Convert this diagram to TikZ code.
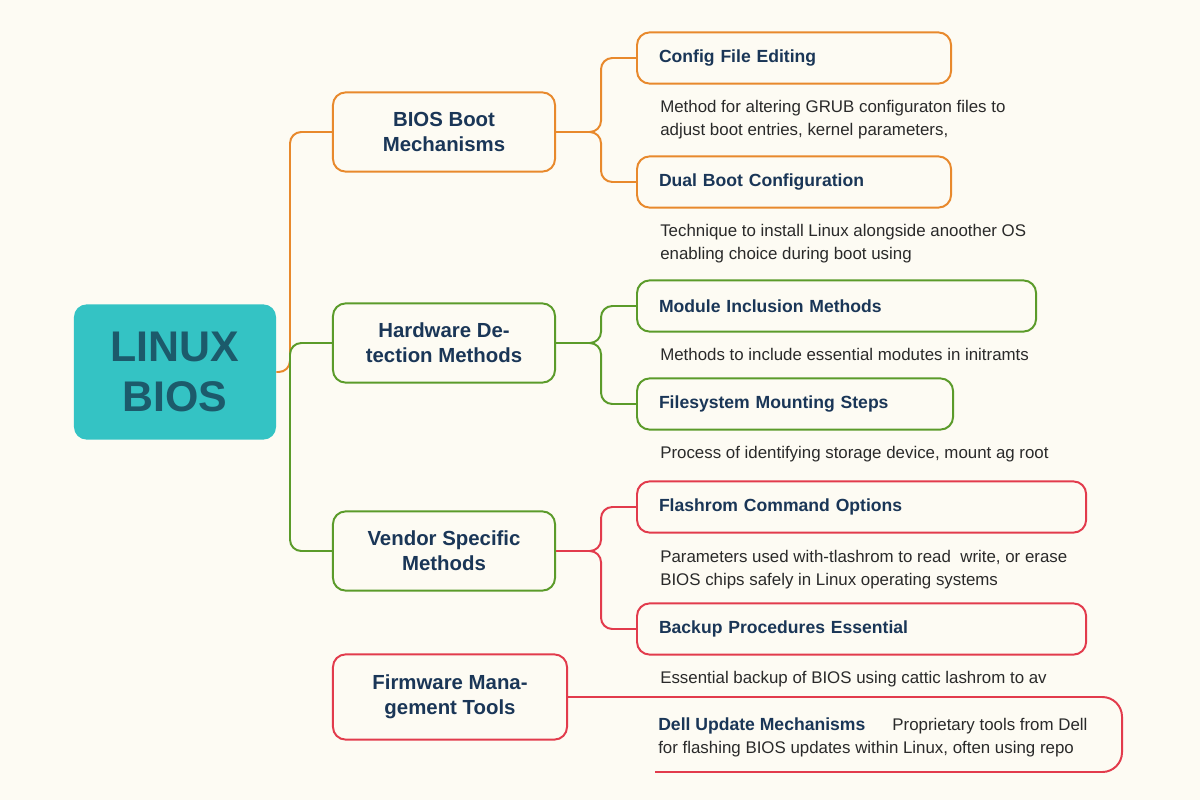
\documentclass[tikz,border=0pt]{standalone}
\usepackage{fontspec}
\setmainfont{Liberation Sans}
\usetikzlibrary{calc}
\definecolor{paper}{HTML}{FDFBF3}
\definecolor{orng}{HTML}{E8892C}
\definecolor{grn}{HTML}{5B9B2A}
\definecolor{rd}{HTML}{E23B4C}
\definecolor{navy}{HTML}{1A3657}
\definecolor{tealfill}{HTML}{34C3C4}
\definecolor{tealtext}{HTML}{1C5A6B}
\definecolor{ink}{HTML}{2A2A2A}
\tikzstyle{root}=[rectangle,rounded corners=9pt,fill=tealfill,text=tealtext,font=\fontsize{30.5}{35.6}\selectfont\bfseries,align=center,minimum width=5.05cm,minimum height=3.38cm]
\tikzstyle{topic}=[rectangle,rounded corners=9pt,line width=1.4pt,fill=paper,text=navy,font=\fontsize{14.5}{17.8}\selectfont\bfseries,align=center,minimum width=5.55cm,minimum height=1.98cm]
\tikzstyle{leaf}=[rectangle,rounded corners=9pt,line width=1.4pt,fill=paper,text=navy,font=\fontsize{12.5}{15}\selectfont\bfseries,align=left,inner xsep=0.55cm,minimum height=1.28cm,anchor=west]
\tikzstyle{note}=[inner sep=0pt,anchor=north west,text=ink,font=\fontsize{12}{16.4}\selectfont,align=left]
\tikzstyle{branch}=[line width=1.4pt,rounded corners=8pt]

\begin{document}
\begin{tikzpicture}[x=0.025cm,y=-0.025cm]
\fill[paper] (0,0) rectangle (1200,800);
\node[root] (linux) at (175,372) {LINUX\\BIOS};
\node[topic, draw=orng] (boot) at (444,132) {BIOS Boot\\Mechanisms};
\node[topic, draw=grn] (hw) at (444,343) {Hardware De-\\tection Methods};
\node[topic, draw=grn] (vendor) at (444,551) {Vendor Specific\\Methods};
\node[topic, draw=rd, minimum width=5.85cm, minimum height=2.13cm] (firm) at (450,697) {Firmware Mana-\\gement Tools};
\node[leaf, draw=orng, text width=6.75cm] (cfg) at (636,58) {Config File Editing};
\node[leaf, draw=orng, text width=6.75cm] (dual) at (636,182) {Dual Boot Configuration};
\node[leaf, draw=grn, text width=8.875cm] (mod) at (636,306) {Module Inclusion Methods};
\node[leaf, draw=grn, text width=6.8cm] (fs) at (636,404) {Filesystem Mounting Steps};
\node[leaf, draw=rd, text width=10.125cm] (flash) at (636,507) {Flashrom Command Options};
\node[leaf, draw=rd, text width=10.125cm] (backup) at (636,629) {Backup Procedures Essential};
\node[note] (cfgnote) at (660,100) {Method for altering GRUB configuraton files to\\adjust boot entries, kernel parameters,};
\node[note] (dualnote) at (660,224) {Technique to install Linux alongside anoother OS\\enabling choice during boot using};
\node[note] (modnote) at (660,348) {Methods to include essential modutes in initramts};
\node[note] (fsnote) at (660,446) {Process of identifying storage device, mount ag root};
\node[note] (flashnote) at (660,550) {Parameters used with-tlashrom to read\ \ write, or erase\\BIOS chips safely in Linux operating systems};
\node[note] (backnote) at (660,671) {Essential backup of BIOS using cattic lashrom to av};
\node[note] (dell) at (658,717) {\textcolor{navy}{\fontsize{12.5}{15}\selectfont\bfseries Dell Update Mechanisms}\hspace{1.6em}Proprietary tools from Dell\\for flashing BIOS updates within Linux, often using repo};
\coordinate (hub) at (290,372);
\coordinate (bootfork) at ($(boot.east)+(45,0)$);
\coordinate (hwfork) at ($(hw.east)+(45,0)$);
\coordinate (vendorfork) at ($(vendor.east)+(45,0)$);
\coordinate (dellcorner) at (1122,700);
\coordinate (dellend) at (655,772);
\draw[branch, orng] (linux.east) -- (hub) |- (boot.west);
\draw[branch, grn] (hub) |- (hw.west);
\draw[branch, grn] (hub) |- (vendor.west);
\draw[branch, orng] (boot.east) -- (bootfork) |- (cfg.west);
\draw[branch, orng] (boot.east) -- (bootfork) |- (dual.west);
\draw[branch, grn] (hw.east) -- (hwfork) |- (mod.west);
\draw[branch, grn] (hw.east) -- (hwfork) |- (fs.west);
\draw[branch, rd] (vendor.east) -- (vendorfork) |- (flash.west);
\draw[branch, rd] (vendor.east) -- (vendorfork) |- (backup.west);
\draw[branch, rd, rounded corners=14pt] (firm.east) -- (firm.east -| dellcorner) -- (dellcorner |- dellend) -- (dellend);
\end{tikzpicture}
\end{document}
